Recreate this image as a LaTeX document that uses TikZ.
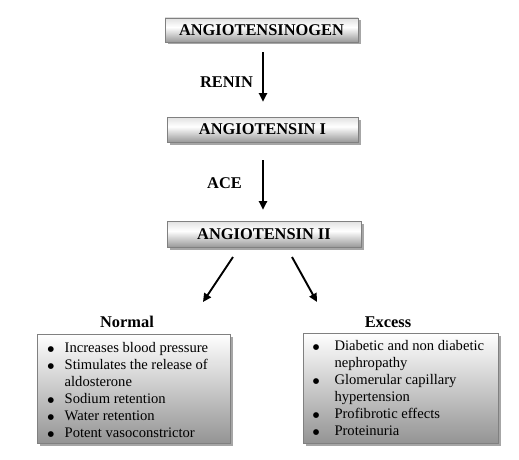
\documentclass[tikz,border=0pt]{standalone}
\usepackage{fontspec}
\setmainfont{Liberation Serif}
\newfontfamily\dotfont{DejaVu Sans}
\usetikzlibrary{arrows.meta,shadows}
\pgfdeclareverticalshading{topshade}{100bp}{color(0bp)=(black!40); color(25bp)=(black!40); color(56bp)=(white); color(75bp)=(black!12); color(100bp)=(black!12)}
\pgfdeclareverticalshading{listshade}{100bp}{color(0bp)=(black!42); color(25bp)=(black!42); color(75bp)=(white); color(100bp)=(white)}
\newcommand{\bigbul}{\makebox[9pt]{$\vcenter{\hbox{\dotfont\fontsize{7.5}{8}\selectfont ●}}$}}
\begin{document}
\begin{tikzpicture}[x=1pt,y=-1pt,
  boxshadow/.style={drop shadow={shadow xshift=2.5pt,shadow yshift=-2.5pt,fill=black,opacity=0.35}},
  topbox/.style={draw=black!50,line width=0.6pt,shading=topshade,boxshadow,
    font=\fontsize{16.4}{19}\selectfont\bfseries,inner sep=0pt},
  listbox/.style={draw=black!50,line width=0.6pt,shading=listshade,boxshadow,inner sep=0pt},
  lbl/.style={font=\fontsize{16.4}{19}\selectfont\bfseries,inner sep=0pt,anchor=base},
  listtext/.style={font=\fontsize{14.6}{17}\selectfont,inner sep=0pt,anchor=north west,align=left},
  arr/.style={line width=1.9pt,-{Triangle[length=8.5pt,width=8pt]}}]
\useasboundingbox (0,0) rectangle (519,460);
% top boxes
\node[topbox,minimum width=193pt,minimum height=24pt] (b1) at (261.5,30) {ANGIOTENSINOGEN};
\node[topbox,minimum width=191pt,minimum height=25pt] (b2) at (262.5,129.5) {ANGIOTENSIN I};
\node[topbox,minimum width=194pt,minimum height=26pt] (b3) at (264,234) {ANGIOTENSIN II};
% enzyme labels
\node[lbl] (renin) at (226.5,87) {RENIN};
\node[lbl] (ace) at (224.5,188) {ACE};
% vertical arrows
\draw[arr,shorten <=10pt,shorten >=15pt] ([xshift=1.5pt]b1.south) -- ([xshift=0.5pt]b2.north);
\draw[arr,shorten <=18pt,shorten >=11pt] ([xshift=0.5pt]b2.south) -- ([xshift=-1pt]b3.north);
% list titles
\node[lbl] (normal) at (127,327.3) {Normal};
\node[lbl] (excess) at (388,327.3) {Excess};
% diagonal arrows
\coordinate (ls) at (233,257);
\coordinate (le) at (203,302);
\coordinate (rs) at (292,257);
\coordinate (re) at (317,302);
\draw[arr] (ls) -- (le);
\draw[arr] (rs) -- (re);
% list boxes
\node[listbox,minimum width=193pt,minimum height=109pt] (nbox) at (133.5,388.5) {};
\node[listbox,minimum width=195pt,minimum height=110pt] (ebox) at (400.5,388) {};
\node[listtext] (ntext) at (46.2,340.6) {\begin{tabular}{@{}p{18.3pt}@{}l@{}}
\bigbul & Increases blood pressure\\
\bigbul & Stimulates the release of\\
 & aldosterone\\
\bigbul & Sodium retention\\
\bigbul & Water retention\\
\bigbul & Potent vasoconstrictor
\end{tabular}};
\node[listtext] (etext) at (311.5,338.6) {\begin{tabular}{@{}p{22.8pt}@{}l@{}}
\bigbul & Diabetic and non diabetic\\
 & nephropathy\\
\bigbul & Glomerular capillary\\
 & hypertension\\
\bigbul & Profibrotic effects\\
\bigbul & Proteinuria
\end{tabular}};
\end{tikzpicture}
\end{document}
